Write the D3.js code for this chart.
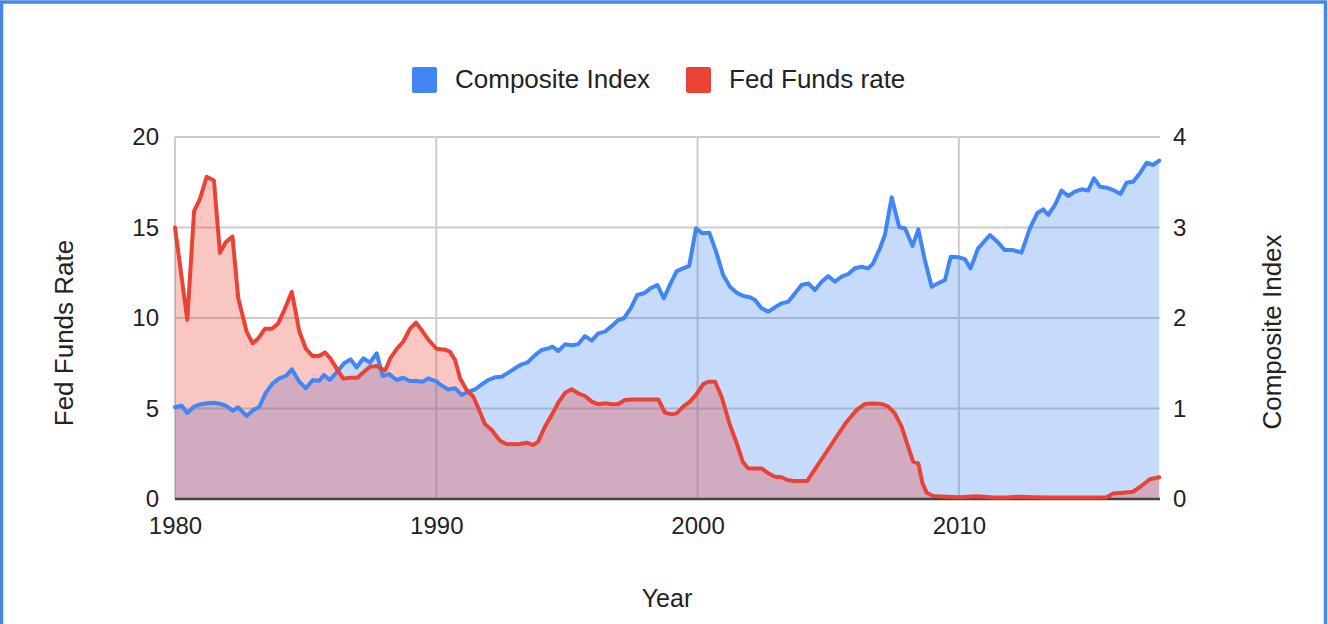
<!DOCTYPE html>
<html>
<head>
<meta charset="utf-8">
<script src="https://cdn.jsdelivr.net/npm/d3@7"></script>
<style>
  html, body { margin: 0; padding: 0; background: #fff; }
  svg { display: block; font-family: "Liberation Sans", Arial, sans-serif; }
</style>
</head>
<body>
<svg id="chart" width="1328" height="624"></svg>
<script>
// Quarterly readings, decimal year
const compositeYears = [1980.00,1980.26,1980.47,1980.73,1980.96,1981.21,1981.49,1981.75,1981.95,1982.21,1982.42,1982.74,1983.00,1983.23,1983.48,1983.74,1983.99,1984.25,1984.47,1984.76,1985.01,1985.27,1985.52,1985.70,1985.93,1986.21,1986.47,1986.72,1986.95,1987.21,1987.46,1987.72,1987.95,1988.20,1988.48,1988.74,1988.99,1989.23,1989.48,1989.69,1990.02,1990.14,1990.46,1990.72,1990.97,1991.22,1991.48,1991.74,1991.99,1992.25,1992.50,1992.76,1993.01,1993.27,1993.48,1993.78,1994.03,1994.29,1994.45,1994.67,1994.93,1995.18,1995.43,1995.69,1995.95,1996.20,1996.46,1996.71,1996.97,1997.18,1997.44,1997.69,1997.95,1998.20,1998.46,1998.71,1998.97,1999.20,1999.45,1999.68,1999.94,2000.19,2000.45,2000.73,2000.98,2001.24,2001.50,2001.75,2002.01,2002.20,2002.45,2002.71,2002.96,2003.22,2003.47,2003.73,2003.98,2004.24,2004.49,2004.75,2005.00,2005.26,2005.51,2005.77,2006.02,2006.28,2006.53,2006.72,2006.98,2007.17,2007.43,2007.72,2007.94,2008.23,2008.45,2008.70,2008.96,2009.21,2009.47,2009.69,2009.98,2010.23,2010.45,2010.74,2011.19,2011.47,2011.76,2012.08,2012.40,2012.72,2013.00,2013.23,2013.42,2013.68,2013.93,2014.19,2014.44,2014.70,2014.95,2015.17,2015.40,2015.66,2015.91,2016.19,2016.42,2016.67,2016.93,2017.19,2017.42,2017.67];
const compositeValues = [1.013,1.03,0.95,1.02,1.045,1.057,1.064,1.05,1.03,0.976,1.013,0.917,0.983,1.02,1.175,1.278,1.333,1.36,1.433,1.296,1.223,1.315,1.307,1.37,1.315,1.407,1.5,1.543,1.455,1.555,1.506,1.61,1.36,1.38,1.315,1.34,1.304,1.304,1.296,1.333,1.296,1.267,1.21,1.223,1.15,1.186,1.21,1.267,1.315,1.345,1.35,1.396,1.444,1.488,1.506,1.59,1.646,1.665,1.683,1.635,1.709,1.7,1.709,1.8,1.75,1.83,1.85,1.91,1.978,1.997,2.107,2.254,2.273,2.328,2.365,2.218,2.383,2.519,2.549,2.575,2.991,2.936,2.943,2.715,2.475,2.346,2.28,2.243,2.229,2.199,2.107,2.07,2.118,2.162,2.18,2.273,2.365,2.383,2.309,2.401,2.464,2.401,2.456,2.486,2.549,2.567,2.549,2.604,2.77,2.917,3.334,3.002,2.991,2.796,2.98,2.641,2.346,2.383,2.42,2.677,2.671,2.65,2.549,2.77,2.917,2.843,2.751,2.751,2.722,2.991,3.157,3.201,3.138,3.249,3.407,3.348,3.396,3.422,3.407,3.544,3.451,3.44,3.414,3.37,3.495,3.506,3.599,3.716,3.691,3.738];

const fedYears = [1980.00,1980.47,1980.73,1980.96,1981.21,1981.49,1981.72,1981.95,1982.20,1982.42,1982.74,1982.97,1983.20,1983.44,1983.70,1983.95,1984.20,1984.47,1984.76,1985.01,1985.27,1985.52,1985.74,1985.93,1986.19,1986.44,1986.70,1986.98,1987.21,1987.46,1987.72,1988.04,1988.25,1988.49,1988.74,1988.99,1989.22,1989.48,1989.70,1990.01,1990.33,1990.52,1990.72,1990.91,1991.16,1991.42,1991.61,1991.86,1992.12,1992.44,1992.69,1992.95,1993.20,1993.46,1993.71,1993.90,1994.16,1994.42,1994.67,1994.93,1995.18,1995.43,1995.69,1995.95,1996.20,1996.46,1996.71,1996.97,1997.22,1997.48,1997.73,1997.99,1998.24,1998.50,1998.75,1999.01,1999.20,1999.45,1999.71,1999.94,2000.22,2000.41,2000.67,2000.92,2001.24,2001.50,2001.73,2001.94,2002.20,2002.45,2002.71,2002.96,2003.22,2003.43,2003.69,2003.95,2004.20,2004.56,2004.94,2005.32,2005.71,2006.09,2006.41,2006.72,2007.04,2007.30,2007.55,2007.81,2008.06,2008.25,2008.45,2008.61,2008.77,2009.02,2009.53,2010.04,2010.68,2011.32,2011.83,2012.34,2012.85,2013.49,2014.25,2015.14,2015.66,2015.91,2016.29,2016.67,2016.99,2017.31,2017.67];
const fedValues = [15.0,9.9,15.9,16.6,17.8,17.6,13.6,14.2,14.5,11.1,9.25,8.6,8.9,9.4,9.4,9.7,10.5,11.45,9.25,8.3,7.9,7.9,8.1,7.8,7.2,6.65,6.7,6.7,7.0,7.3,7.35,7.1,7.8,8.3,8.7,9.4,9.75,9.25,8.8,8.3,8.25,8.14,7.68,6.67,6.02,5.65,5.01,4.14,3.81,3.22,3.04,3.02,3.04,3.11,2.98,3.17,4.0,4.64,5.32,5.87,6.06,5.84,5.69,5.38,5.23,5.29,5.23,5.25,5.47,5.5,5.5,5.5,5.5,5.5,4.77,4.68,4.73,5.1,5.38,5.75,6.35,6.48,6.48,5.65,4.09,3.08,2.06,1.69,1.69,1.69,1.42,1.23,1.2,1.05,1.0,1.0,1.0,1.79,2.61,3.44,4.27,4.92,5.25,5.28,5.25,5.1,4.73,4.0,2.89,2.06,1.97,0.87,0.35,0.17,0.13,0.1,0.15,0.08,0.08,0.13,0.1,0.08,0.08,0.08,0.1,0.31,0.35,0.4,0.72,1.09,1.2];

const xTickValues = [1980, 1990, 2000, 2010];
const leftTickValues = [0, 5, 10, 15, 20];
const rightTickValues = [0, 1, 2, 3, 4];

const seriesNames = ["Composite Index", "Fed Funds rate"];
const blue = "#4285f4", red = "#ea4335";

const svg = d3.select("#chart");
const plot = { left: 175, right: 1160, top: 137, bottom: 499 };

const x = d3.scaleLinear().domain([1980, 2017.7]).range([plot.left, plot.right]);
const yLeft = d3.scaleLinear().domain([0, 20]).range([plot.bottom, plot.top]);
const yRight = d3.scaleLinear().domain([0, 4]).range([plot.bottom, plot.top]);

const tickFont = 24;
const titleFont = 26;
const textColor = "#222";

// frame
svg.append("rect")
  .attr("x", 1.5).attr("y", 2).attr("width", 1324).attr("height", 700)
  .attr("fill", "none").attr("stroke", "#4a86e8").attr("stroke-width", 3.5);

// gridlines
const grid = svg.append("g");
grid.selectAll("line.h").data(leftTickValues.filter(d => d > 0)).join("line")
  .attr("x1", plot.left).attr("x2", plot.right)
  .attr("y1", d => yLeft(d)).attr("y2", d => yLeft(d))
  .attr("stroke", "#cccccc").attr("stroke-width", 2);
grid.selectAll("line.v").data(xTickValues).join("line")
  .attr("x1", d => x(d)).attr("x2", d => x(d))
  .attr("y1", plot.top).attr("y2", plot.bottom)
  .attr("stroke", "#cccccc").attr("stroke-width", 2);

const compData = compositeYears.map((yr, i) => ({ yr, v: compositeValues[i] }));
const fedData = fedYears.map((yr, i) => ({ yr, v: fedValues[i] }));

const compArea = d3.area().x(d => x(d.yr)).y0(plot.bottom).y1(d => yRight(d.v));
const fedArea = d3.area().x(d => x(d.yr)).y0(plot.bottom).y1(d => yLeft(d.v));
const compLine = d3.line().x(d => x(d.yr)).y(d => yRight(d.v));
const fedLine = d3.line().x(d => x(d.yr)).y(d => yLeft(d.v));

svg.append("path").datum(compData).attr("d", compArea).attr("fill", blue).attr("fill-opacity", 0.3);
svg.append("path").datum(fedData).attr("d", fedArea).attr("fill", red).attr("fill-opacity", 0.3);

// baseline
svg.append("line")
  .attr("x1", plot.left).attr("x2", plot.right)
  .attr("y1", plot.bottom).attr("y2", plot.bottom)
  .attr("stroke", "#444").attr("stroke-width", 2.5);

svg.append("path").datum(compData).attr("d", compLine)
  .attr("fill", "none").attr("stroke", blue).attr("stroke-width", 4)
  .attr("stroke-linejoin", "round").attr("stroke-linecap", "round");
svg.append("path").datum(fedData).attr("d", fedLine)
  .attr("fill", "none").attr("stroke", red).attr("stroke-width", 4)
  .attr("stroke-linejoin", "round").attr("stroke-linecap", "round");

// axes
function styleAxis(g) {
  g.select(".domain").remove();
  g.selectAll(".tick line").remove();
  g.selectAll("text").attr("font-size", tickFont).attr("fill", textColor)
    .attr("font-family", "Liberation Sans, Arial, sans-serif");
}
svg.append("g").attr("transform", `translate(${plot.left - 16},0)`)
  .call(d3.axisLeft(yLeft).tickValues(leftTickValues).tickFormat(d3.format("d")).tickSize(0).tickPadding(0))
  .call(styleAxis);
svg.append("g").attr("transform", `translate(${plot.right + 13},0)`)
  .call(d3.axisRight(yRight).tickValues(rightTickValues).tickFormat(d3.format("d")).tickSize(0).tickPadding(0))
  .call(styleAxis);
svg.append("g").attr("transform", `translate(0,${plot.bottom + 18})`)
  .call(d3.axisBottom(x).tickValues(xTickValues).tickFormat(d3.format("d")).tickSize(0).tickPadding(0))
  .call(styleAxis);

// axis titles
svg.append("text").attr("transform", "translate(73,333) rotate(-90)")
  .attr("text-anchor", "middle").attr("font-size", titleFont).attr("fill", textColor)
  .text("Fed Funds Rate");
svg.append("text").attr("transform", "translate(1281,332) rotate(-90)")
  .attr("text-anchor", "middle").attr("font-size", titleFont).attr("fill", textColor)
  .text("Composite Index");
svg.append("text").attr("x", 667).attr("y", 607)
  .attr("text-anchor", "middle").attr("font-size", titleFont - 1).attr("fill", textColor)
  .text("Year");

// legend
const legendItems = [
  { name: seriesNames[0], color: blue, x: 412 },
  { name: seriesNames[1], color: red, x: 686 }
];
const lg = svg.append("g");
legendItems.forEach(item => {
  lg.append("rect").attr("x", item.x).attr("y", 67).attr("width", 25).attr("height", 26)
    .attr("rx", 2).attr("fill", item.color);
  lg.append("text").attr("x", item.x + 43).attr("y", 88)
    .attr("font-size", 26).attr("fill", textColor).text(item.name);
});
</script>
</body>
</html>
